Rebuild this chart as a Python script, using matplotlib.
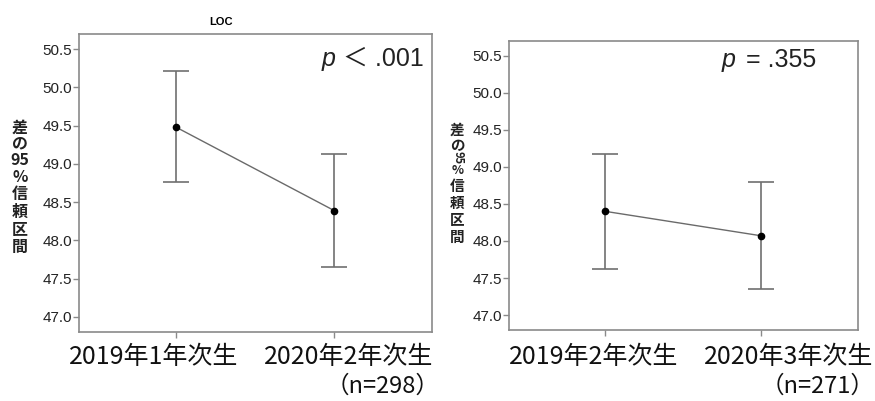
import matplotlib
matplotlib.use("Agg")
import matplotlib.pyplot as plt

plt.rcParams['font.family'] = ['Liberation Sans', 'Noto Sans CJK JP', 'DejaVu Sans']

# Data
left_categories = ["2019年1年次生", "2020年2年次生"]
left_n = "（n=298）"
left_means = [49.48, 48.39]
left_lower = [48.76, 47.65]
left_upper = [50.21, 49.13]
left_p_rest = "＜ .001"

right_categories = ["2019年2年次生", "2020年3年次生"]
right_n = "（n=271）"
right_means = [48.40, 48.07]
right_lower = [47.62, 47.35]
right_upper = [49.17, 48.79]
right_p_rest = "= .355"

yticks = [47.0, 47.5, 48.0, 48.5, 49.0, 49.5, 50.0, 50.5]
ytick_labels = ["47.0", "47.5", "48.0", "48.5", "49.0", "49.5", "50.0", "50.5"]

W, H = 875, 401
fig = plt.figure(figsize=(W / 100, H / 100), dpi=100)

spine_col = "#8a8a8a"
bar_col = "#707070"
cjk = ['Noto Sans CJK JP', 'DejaVu Sans']


def draw(ax, cats, means, lo, hi):
    x = list(range(len(cats)))
    yerr = [[m - l for m, l in zip(means, lo)], [h - m for m, h in zip(means, hi)]]
    ax.errorbar(x, means, yerr=yerr, fmt='none', ecolor=bar_col, elinewidth=1.2,
                capsize=9.5, capthick=1.2, zorder=2)
    ax.plot(x, means, color="#6a6a6a", lw=1.0, zorder=3)
    ax.plot(x, means, 'o', color='black', ms=4.5, zorder=4)
    ax.set_xlim(-0.615, 1.62)
    ax.set_ylim(46.8, 50.7)
    ax.set_yticks(yticks)
    ax.set_yticklabels(ytick_labels, fontsize=11, family=['Liberation Sans'], color='#222222')
    ax.set_xticks(x)
    ax.set_xticklabels([])
    for s in ax.spines.values():
        s.set_color(spine_col)
        s.set_linewidth(1.2)
    ax.tick_params(axis='both', color=spine_col, length=4, width=1.0, direction='out')
    ax.tick_params(axis='y', pad=1)


axL = fig.add_axes([79 / W, 1 - 332 / H, 353 / W, 298 / H])
draw(axL, left_categories, left_means, left_lower, left_upper)
axR = fig.add_axes([509 / W, 1 - 330 / H, 349 / W, 289.3 / H])
draw(axR, right_categories, right_means, right_lower, right_upper)

# category labels (spread apart as in the reference)
lab_fs = 18
for (cats, nlab, xs, nx) in [
    (left_categories, left_n, [153.5, 348.5], 383),
    (right_categories, right_n, [593.5, 788.5], 818),
]:
    for c, xc in zip(cats, xs):
        fig.text(xc / W, 1 - 357 / H, c, ha='center', va='center', fontsize=lab_fs,
                 family=cjk, color='#111111')
    fig.text(nx / W, 1 - 386.5 / H, nlab, ha='center', va='center', fontsize=17,
             family=cjk, color='#111111')

# p-value annotations
fig.text(322 / W, 1 - 66 / H, "p", ha='left', va='baseline', fontsize=18,
         style='italic', family=['Liberation Sans'], color='#222222')
fig.text(424 / W, 1 - 66 / H, left_p_rest, ha='right', va='baseline', fontsize=18,
         family=['Liberation Sans', 'Noto Sans CJK JP'], color='#222222')
fig.text(722 / W, 1 - 67 / H, "p", ha='left', va='baseline', fontsize=18,
         style='italic', family=['Liberation Sans'], color='#222222')
fig.text(816 / W, 1 - 67 / H, right_p_rest, ha='right', va='baseline', fontsize=18,
         family=['Liberation Sans', 'Noto Sans CJK JP'], color='#222222')

fig.text(221 / W, 1 - 22 / H, "LOC", ha='center', va='center', fontsize=8, fontweight='bold')

# stacked vertical y-labels
left_chars = ["差", "の", "95", "%", "信", "頼", "区", "間"]
left_y = [128, 143, 160, 177, 194, 212, 230, 247]
for c, yy in zip(left_chars, left_y):
    fig.text(20 / W, 1 - yy / H, c, ha='center', va='center', fontsize=11.5,
             fontweight='bold', family=cjk, color='#222222')

right_chars = ["差", "の", "95", "%", "信", "頼", "区", "間"]
right_y = [129.5, 144.5, 157.5, 170, 185.5, 202.5, 219.5, 236.5]
right_rot = [0, 0, -90, 0, 0, 0, 0, 0]
right_size = [10.5, 10.5, 8, 9, 10.5, 10.5, 10.5, 10.5]
for c, yy, r, fs in zip(right_chars, right_y, right_rot, right_size):
    fig.text(457.5 / W, 1 - yy / H, c, ha='center', va='center', fontsize=fs,
             rotation=r, fontweight='bold', family=cjk, color='#222222')

fig.savefig("out.png", dpi=100)
